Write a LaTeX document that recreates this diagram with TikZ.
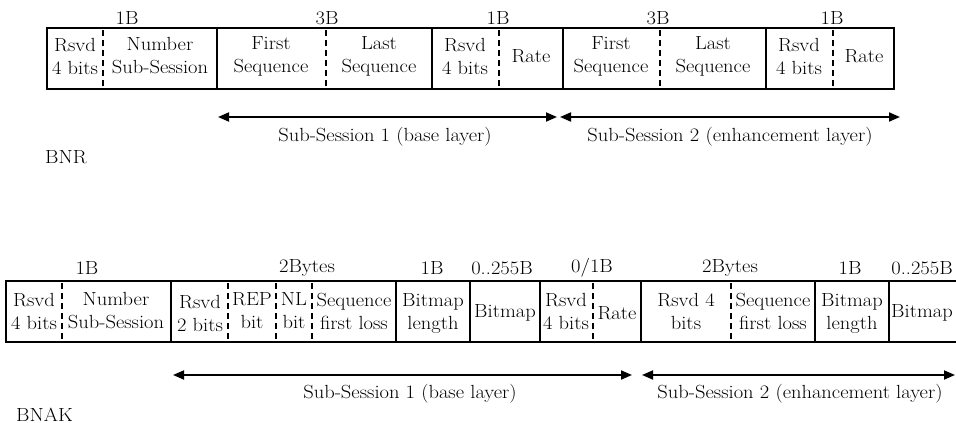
\documentclass[tikz,border=0pt]{standalone}
\usepackage{fontspec}
\setmainfont{Latin Modern Roman}[FakeStretch=1.08]
\usetikzlibrary{arrows.meta}
\begin{document}
\begin{tikzpicture}[x=1pt,y=-1pt,
  every node/.style={font=\fontsize{19}{23}\selectfont, inner sep=0pt, align=center},
  frame/.style={line width=1.8pt},
  solidsep/.style={line width=1.5pt},
  dashsep/.style={line width=1.8pt, dash pattern=on 6pt off 4pt},
  span/.style={line width=1.8pt, {Triangle[length=11pt,width=9pt]}-{Triangle[length=11pt,width=9pt]}}]
\useasboundingbox (0,0) rectangle (956,423);

% ---------- BNR ----------
\draw[frame] (47,28) rectangle (894,89);
\foreach \x in {217,432,563,766} \draw[solidsep] (\x,28) -- (\x,89);
\foreach \x in {103,326,499,660,833} \draw[dashsep] (\x,30) -- (\x,89);

\node (t1) at (127,18) {1B};
\node (t2) at (327,18) {3B};
\node (t3) at (498,18) {1B};
\node (t4) at (658,18) {3B};
\node (t5) at (832,18) {1B};

\node (a1) at (75,56) {Rsvd\\4 bits};
\node (a2) at (160,56) {Number\\Sub-Session};
\node (a3) at (271,56) {First\\Sequence};
\node (a4) at (379,56) {Last\\Sequence};
\node (a5) at (465,56) {Rsvd\\4 bits};
\node (a6) at (531,56) {Rate};
\node (a7) at (611,56) {First\\Sequence};
\node (a8) at (713,56) {Last\\Sequence};
\node (a9) at (799,56) {Rsvd\\4 bits};
\node (a10) at (864,56) {Rate};

\coordinate (r1s) at (218,117);
\coordinate (r1e) at (557,117);
\coordinate (r2s) at (560,117);
\coordinate (r2e) at (900,117);
\draw[span] (r1s) -- (r1e);
\draw[span] (r2s) -- (r2e);
\node (s1) at (385,137) {Sub-Session 1 (base layer)};
\node (s2) at (730,137) {Sub-Session 2 (enhancement layer)};
\node[anchor=west] (bnr) at (45,157) {BNR};

% ---------- BNAK ----------
\draw[frame] (956,281) -- (6,281) -- (6,342) -- (956,342);
\foreach \x in {171,396,470,540,641,815,889} \draw[solidsep] (\x,281) -- (\x,342);
\foreach \x in {62,228,276,312,593,731} \draw[dashsep] (\x,283) -- (\x,342);

\node (u1) at (87,268) {1B};
\node (u2) at (307,268) {2Bytes};
\node (u3) at (432,268) {1B};
\node (u4) at (502,268) {0..255B};
\node (u5) at (592,268) {0/1B};
\node (u6) at (730,268) {2Bytes};
\node (u7) at (850,268) {1B};
\node (u8) at (922,268) {0..255B};

\node (b1) at (34,311) {Rsvd\\4 bits};
\node (b2) at (116,311) {Number\\Sub-Session};
\node (b3) at (200,313) {Rsvd\\2 bits};
\node (b4) at (252,311) {REP\\bit};
\node (b5) at (294,311) {NL\\bit};
\node (b6) at (354,311) {Sequence\\first loss};
\node (b7) at (433,313) {Bitmap\\length};
\node (b8) at (505,313) {Bitmap};
\node (b9) at (566,311) {Rsvd\\4 bits};
\node (b10) at (617,313) {Rate};
\node (b11) at (686,311) {Rsvd 4\\bits};
\node (b12) at (773,311) {Sequence\\first loss};
\node (b13) at (852,313) {Bitmap\\length};
\node (b14) at (922,313) {Bitmap};

\coordinate (q1s) at (173,375);
\coordinate (q1e) at (632,375);
\coordinate (q2s) at (642,375);
\coordinate (q2e) at (955,375);
\draw[span] (q1s) -- (q1e);
\draw[span] (q2s) -- (q2e);
\node (v1) at (410,394) {Sub-Session 1 (base layer)};
\node (v2) at (800,394) {Sub-Session 2 (enhancement layer)};
\node[anchor=base west] (bnak) at (16,421) {BNAK};
\end{tikzpicture}
\end{document}
